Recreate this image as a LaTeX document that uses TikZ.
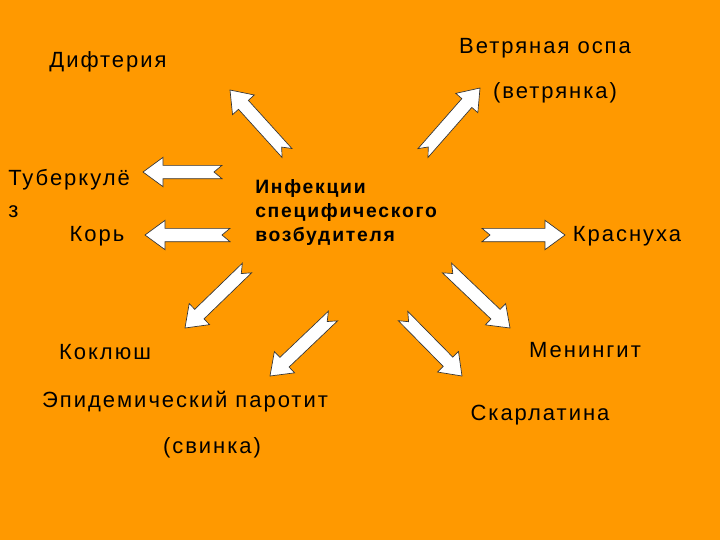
\documentclass[tikz,border=0pt]{standalone}
\usepackage{fontspec}
\setmainfont{Liberation Sans}
\usetikzlibrary{calc}
\definecolor{bg}{HTML}{FF9900}
\tikzset{lbl/.style={font=\fontsize{16.5}{18}\selectfont\addfontfeatures{LetterSpace=9}, inner sep=0pt},
  barrow/.style={fill=white, draw=black!80, line width=0.5pt, line join=miter}}
\newcommand\blockarrow[2]{%
  \coordinate (hb) at ($(#2)!15pt!(#1)$);
  \draw[barrow] ($(#1)!5pt!90:(#2)$) -- ($(hb)!5pt!-90:(#1)$) -- ($(hb)!11pt!-90:(#1)$) -- (#2)
    -- ($(hb)!11pt!90:(#1)$) -- ($(hb)!5pt!90:(#1)$) -- ($(#1)!5pt!-90:(#2)$) -- ($(#1)!6pt!(#2)$) -- cycle;}
\begin{document}
\begin{tikzpicture}[x=0.75pt,y=-0.75pt]
\fill[bg] (0,0) rectangle (720,540);
\useasboundingbox (0,0) rectangle (720,540);
\node[lbl] (dif) at (108,62) {Дифтерия};
\node[lbl] (vet) at (545,48) {Ветряная оспа};
\node[lbl] (vet2) at (555,93) {(ветрянка)};
\node[lbl,anchor=west] (tub) at (8,180) {Туберкулё};
\node[lbl,anchor=west] (tubz) at (8,212) {з};
\node[lbl] (kor) at (97,236) {Корь};
\node[lbl,anchor=west,align=left,font=\bfseries\fontsize{14.5}{18}\selectfont\addfontfeatures{LetterSpace=9}] (inf) at (255,212) {Инфекции\\специфического\\возбудителя};
\node[lbl] (kras) at (627,236) {Краснуха};
\node[lbl] (kok) at (105,352) {Коклюш};
\node[lbl] (men) at (585,350) {Менингит};
\node[lbl] (par) at (185,402) {Эпидемический паротит};
\node[lbl] (svi) at (212,448) {(свинка)};
\node[lbl] (ska) at (540,415) {Скарлатина};
\coordinate (t1) at (287,153); \coordinate (p1) at (230,90);
\coordinate (t2) at (423,153); \coordinate (p2) at (480,88);
\coordinate (t3) at (222,172); \coordinate (p3) at (143,172);
\coordinate (t4) at (230,235); \coordinate (p4) at (145,235);
\coordinate (t5) at (482,235); \coordinate (p5) at (565,235);
\coordinate (t6) at (247,268); \coordinate (p6) at (185,328);
\coordinate (t7) at (333,316); \coordinate (p7) at (270,376);
\coordinate (t8) at (403,316); \coordinate (p8) at (462,376);
\coordinate (t9) at (447,268); \coordinate (p9) at (510,328);
\blockarrow{t1}{p1}\blockarrow{t2}{p2}\blockarrow{t3}{p3}
\blockarrow{t4}{p4}\blockarrow{t5}{p5}\blockarrow{t6}{p6}
\blockarrow{t7}{p7}\blockarrow{t8}{p8}\blockarrow{t9}{p9}
\end{tikzpicture}
\end{document}
